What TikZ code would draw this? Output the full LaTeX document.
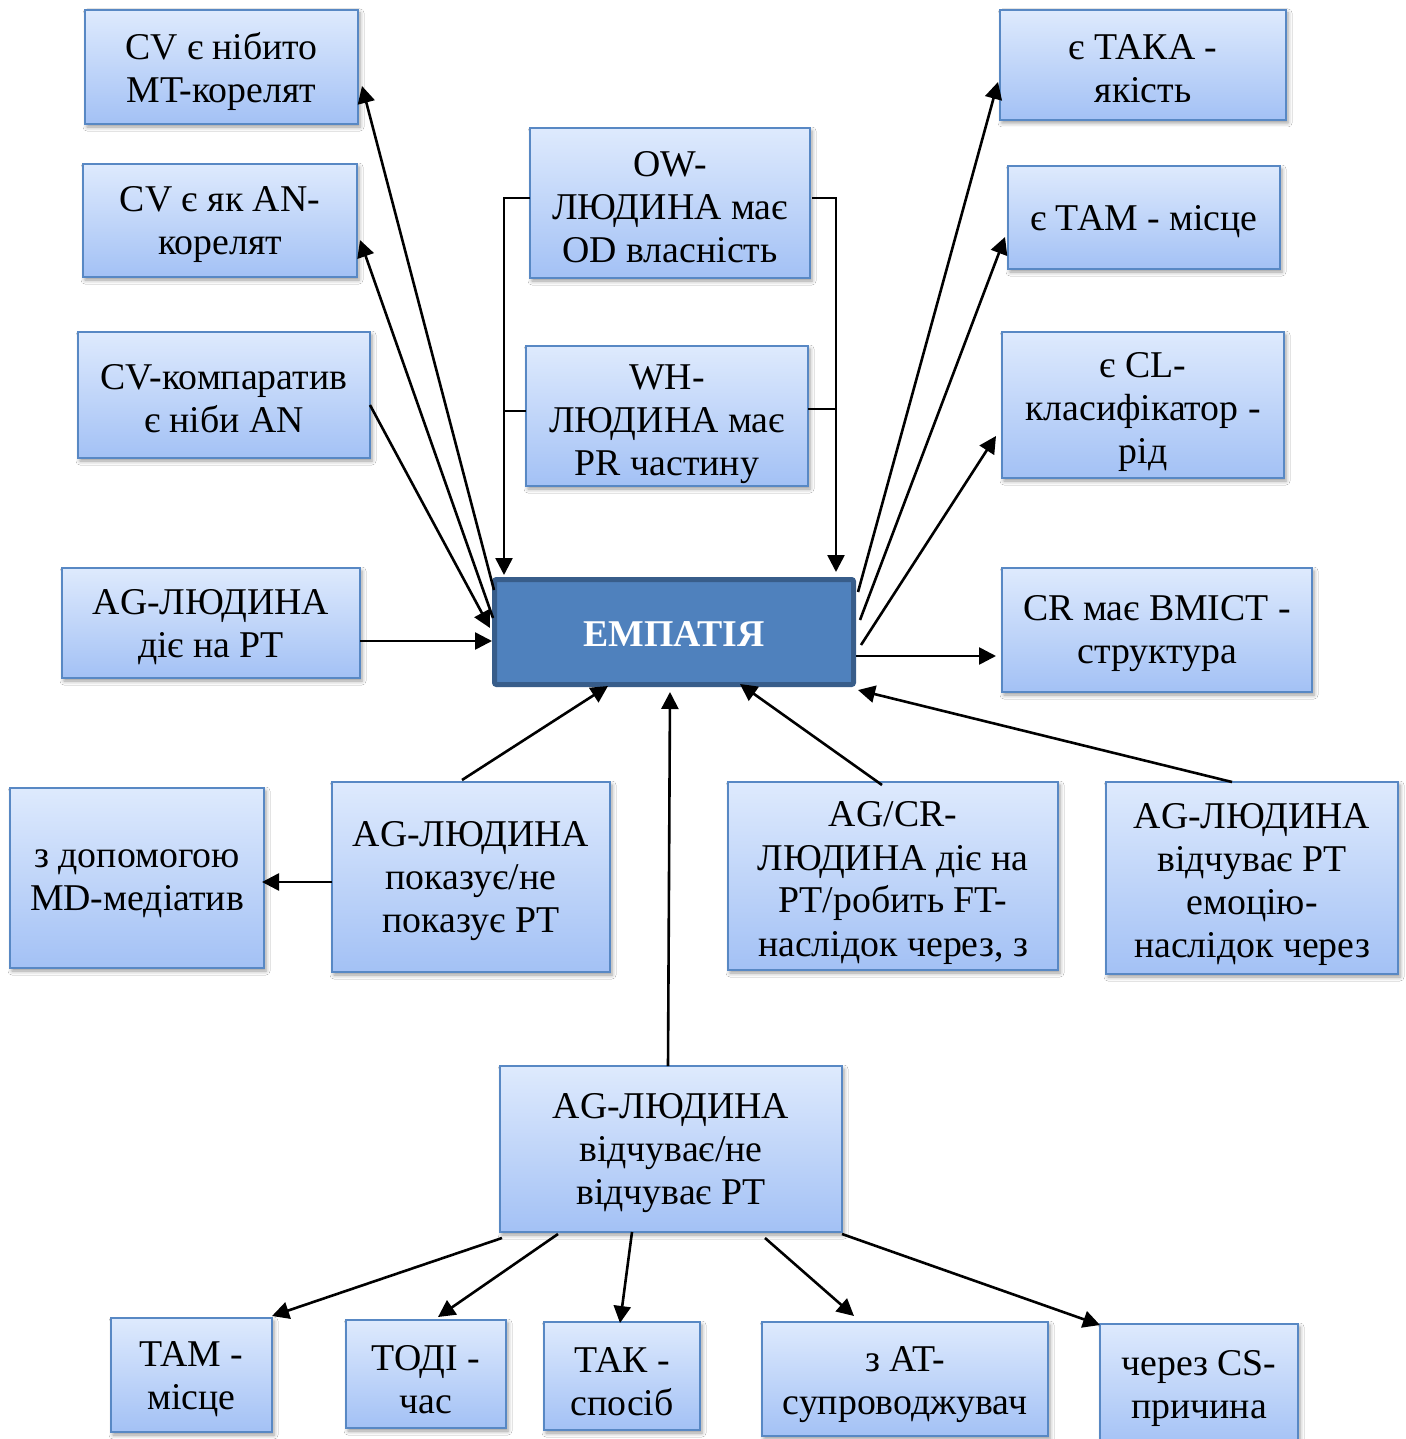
\documentclass[tikz,border=0pt]{standalone}
\usepackage{fontspec}
\setmainfont{Liberation Serif}
\usetikzlibrary{shadows.blur,arrows.meta}
\definecolor{bxtop}{RGB}{222,234,253}
\definecolor{bxbot}{RGB}{163,193,245}
\definecolor{bxline}{RGB}{88,136,196}
\definecolor{empfill}{RGB}{79,129,189}
\definecolor{empline}{RGB}{56,93,138}
\newcommand\bxfont{\fontsize{18.9pt}{21.5pt}\selectfont}
% a box given by its corners (x1,y1) and (x2,y2) in pixel units
\newcommand\bxnode[6][bx]{%
  \node[#1, minimum width={(#5-#3)*0.5pt}, minimum height={(#6-#4)*0.5pt}]
    (#2) at ({(#3+#5)/2},{(#4+#6)/2}) {\strut};}
% the text of a box, centred on it, moved down by 4 + the optional amount
\newcommand\bxtext[3][0]{%
  \node[txt] (#2t) at ([shift={(0,4+#1)}]#2.center) {#3};}
\tikzset{
  bx/.style={draw=bxline, line width=0.75pt, top color=bxtop, bottom color=bxbot,
    inner sep=0pt, outer sep=0pt, font=\bxfont,
    blur shadow={shadow xshift=1pt, shadow yshift=-1.5pt, shadow blur radius=2pt, shadow opacity=40}},
  txt/.style={inner sep=0pt, align=center, font=\bxfont},
  empbox/.style={draw=empline, line width=2.5pt, fill=empfill, inner sep=0pt,
    rounded corners=1pt, font=\bxfont},
  emptxt/.style={inner sep=0pt, text=white, font=\bxfont\bfseries},
  arr/.style={line width=1.3pt, -{Triangle[length=8.5pt,width=8.5pt]}},
  lnk/.style={line width=1.3pt},
}
\begin{document}
\begin{tikzpicture}[x=0.5pt,y=-0.5pt]
\useasboundingbox (0,0) rectangle (1406,1439);
\fill[white] (0,0) rectangle (1406,1439);

% left column
\bxnode{b1}{85}{10}{358}{124}   \bxtext{b1}{CV є нібито\\MT-корелят}
\bxnode{b2}{83}{164}{357}{277}  \bxtext{b2}{CV є як AN-\\корелят}
\bxnode{b3}{78}{332}{370}{458}  \bxtext{b3}{CV-компаратив\\є ніби AN}
\bxnode{b4}{62}{568}{360}{678}  \bxtext{b4}{AG-ЛЮДИНА\\діє на PT}

% middle column above the centre
\bxnode{ob}{530}{128}{810}{278} \bxtext{ob}{OW-\\ЛЮДИНА має\\OD власність}
\bxnode{wb}{526}{346}{808}{486}
\begin{scope}
  \clip (wb.south west) rectangle (wb.north east);
  \bxtext[4]{wb}{WH-\\ЛЮДИНА має\\PR частину}
\end{scope}

% right column
\bxnode{t1}{1000}{10}{1286}{120}  \bxtext{t1}{є ТАКА -\\якість}
\bxnode{t2}{1008}{166}{1280}{269} \bxtext{t2}{є ТАМ - місце}
\bxnode{t3}{1002}{332}{1284}{478} \bxtext[3]{t3}{є CL-\\класифікатор -\\рід}
\bxnode{t4}{1002}{568}{1312}{692} \bxtext{t4}{CR має ВМІСТ -\\структура}

% centre
\bxnode[empbox]{emp}{494.5}{579.5}{853.5}{684.5}
\node[emptxt] (empt) at ([shift={(0,2)}]emp.center) {ЕМПАТІЯ};

% row below the centre
\bxnode{p12}{10}{788}{264}{968}   \bxtext[2]{p12}{з допомогою\\MD-медіатив}
\bxnode{p13}{332}{782}{610}{972}  \bxtext{p13}{AG-ЛЮДИНА\\показує/не\\показує PT}
\bxnode{p14}{728}{782}{1058}{970}
\begin{scope}
  \clip (p14.south west) rectangle (p14.north east);
  \bxtext[3]{p14}{AG/CR-\\ЛЮДИНА діє на\\PT/робить FT-\\наслідок через, з}
\end{scope}
\bxnode{p15}{1106}{782}{1398}{974} \bxtext[2]{p15}{AG-ЛЮДИНА\\відчуває PT\\емоцію-\\наслідок через}
\bxnode{p16}{500}{1066}{842}{1232} \bxtext{p16}{AG-ЛЮДИНА\\відчуває/не\\відчуває PT}

% bottom row
\bxnode{q1}{111}{1318}{272}{1432}  \bxtext{q1}{ТАМ -\\місце}
\bxnode{q2}{346}{1320}{506}{1428}  \bxtext[2]{q2}{ТОДІ -\\час}
\bxnode{q3}{544}{1322}{700}{1430}  \bxtext[2]{q3}{ТАК -\\спосіб}
\bxnode{q4}{762}{1322}{1048}{1436} \bxtext[2]{q4}{з AT-\\супроводжувач}
\bxnode{q5}{1100}{1324}{1298}{1448} \bxtext[-2]{q5}{через CS-\\причина}

% connectors on the left
\draw[arr] ([shift={(2,13)}]emp.north west) -- ([shift={(4,19)}]b1.east);
\draw[arr] ([shift={(1,41)}]emp.north west) -- ([shift={(3,19.5)}]b2.east);
\draw[arr] ([shift={(0,10)}]b3.east) -- ([shift={(-2,-4)}]emp.west);
\draw[arr] ([shift={(0,18)}]b4.east) -- ([shift={(0,9)}]emp.west);

% brackets joining the two middle boxes
\draw[arr] ([shift={(0,-5)}]ob.west) -| ([shift={(12,-2)}]emp.north west);
\draw[lnk] ([shift={(0,-5)}]wb.west) -- ([shift={(-22,-5)}]wb.west);
\draw[arr] ([shift={(2,-5)}]ob.east) -| ([shift={(-20,-5)}]emp.north east);
\draw[lnk] ([shift={(0,-7)}]wb.east) -- ([shift={(28,-7)}]wb.east);

% connectors on the right
\draw[arr] ([shift={(2,15)}]emp.north east) -- ([shift={(-2,17)}]t1.west);
\draw[arr] ([shift={(4,43)}]emp.north east) -- ([shift={(-3,19.5)}]t2.west);
\draw[arr] ([shift={(5,68)}]emp.north east) -- ([shift={(-6,31)}]t3.west);
\draw[arr] ([shift={(0,24)}]emp.east) -- ([shift={(-6,26)}]t4.west);

% connectors from below
\draw[arr] ([shift={(-9,-2)}]p13.north) -- ([shift={(-66,-1)}]emp.south);
\draw[arr] ([shift={(-3,0)}]p16.north) -- ([shift={(-4,5)}]emp.south);
\draw[arr] ([shift={(-11,3)}]p14.north) -- ([shift={(66,-3)}]emp.south);
\draw[arr] ([shift={(-20,0)}]p15.north) -- ([shift={(2,3)}]emp.south east);
\draw[arr] ([shift={(0,5)}]p13.west) -- ([shift={(-2,4)}]p12.east);

% fan-out to the bottom row
\draw[arr] ([shift={(2,6)}]p16.south west) -- ([shift={(0,-2)}]q1.north east);
\draw[arr] ([shift={(58,2)}]p16.south west) -- ([shift={(12,-3)}]q2.north);
\draw[arr] ([shift={(132,0)}]p16.south west) -- ([shift={(-2,1)}]q3.north);
\draw[arr] ([shift={(265,6)}]p16.south west) -- ([shift={(-51,-6)}]q4.north);
\draw[arr] ([shift={(0,2)}]p16.south east) -- ([shift={(0,1)}]q5.north west);
\end{tikzpicture}
\end{document}
